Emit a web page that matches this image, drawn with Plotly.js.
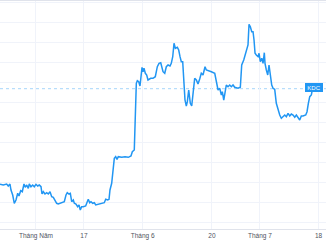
<!DOCTYPE html>
<html>
<head>
<meta charset="utf-8">
<script src="https://cdn.plot.ly/plotly-3.0.1.min.js"></script>
<style>html,body{margin:0;padding:0;background:#fff;}#chart{width:326px;height:245px;}</style>
</head>
<body>
<div id="chart"></div>
<script>
// x: trading-day index (0 = first session of May), fractional = intraday bars
var days = [-6.75,-6.14,-5.50,-5.20,-4.88,-4.69,-4.37,-4.07,-3.75,-3.43,-3.19,-2.87,-2.57,-2.25,-2.01,-1.74,-1.44,-1.26,-0.94,-0.62,-0.32,0,0.32,0.62,0.94,1.13,1.37,1.69,2.01,2.31,2.63,2.95,3.25,3.56,3.88,4.18,4.50,
4.82,5.31,5.63,5.87,6.19,6.44,6.70,7.00,7.19,7.50,7.82,8.07,8.31,8.57,8.87,9.32,9.62,9.81,10.08,10.32,10.64,10.94,11.20,11.69,12.14,12.51,12.81,13.08,13.45,13.70,13.88,14.20,14.50,14.69,14.95,15.20,15.44,16.08,16.70,17.32,17.82,18.07,18.44,18.57,
18.82,19.01,19.27,19.51,19.76,19.89,20.08,20.26,20.51,20.77,21.01,21.52,21.95,22.38,22.76,23.08,23.40,23.64,23.83,24.15,24.45,24.77,25.14,25.38,25.65,25.89,26.14,26.51,26.77,27.02,27.26,27.52,27.77,27.95,28.20,28.39,28.65,28.95,29.21,29.46,29.77,30.08,30.39,30.71,31.01,31.33,31.71,31.95,32.46,32.89,33.53,33.83,34.15,34.47,34.77,34.95,35.22,35.46,35.70,36.02,36.34,36.64,36.96,37.28,37.90,38.33,38.59,38.97,39.34,39.59,39.77,39.96,40.21,40.47,40.71,40.90,41.09,41.33,41.65,41.84,42.08,42.35,42.59,42.83,42.96,43.21,43.47,43.71,43.96,44.22,44.47,44.78,45.08,45.40,45.72,46.02,46.34,46.66,46.96,47.28,47.60,47.90,48.22,48.54,48.84,49.16,49.47,49.77,50.09,50.60,50.84,51.09,51.35,51.65,51.88];
var prices = [47.84,47.77,47.87,47.67,47.87,47.27,46.77,45.94,46.27,46.94,46.67,47.20,47.10,47.87,47.54,47.77,47.44,47.87,47.60,47.77,47.60,47.84,47.67,47.77,47.60,46.87,47.10,46.87,47.00,46.87,47.10,46.60,46.54,46.27,45.94,45.87,45.94,
46.00,46.10,46.77,47.00,46.87,46.94,46.10,46.27,45.94,45.87,45.60,45.77,45.27,45.60,45.60,45.67,46.10,46.34,46.00,46.10,45.94,46.00,45.77,45.84,45.87,45.94,46.00,46.34,46.27,46.34,47.27,47.94,49.27,50.44,50.60,50.34,50.60,50.54,50.60,50.54,50.67,51.10,51.27,53.27,
57.94,58.20,58.10,57.67,59.27,59.54,59.10,59.44,58.94,58.77,58.27,58.44,58.44,58.60,59.60,59.94,60.00,59.60,59.10,58.94,59.60,59.77,59.67,59.94,60.60,61.94,61.44,61.54,61.27,60.60,60.10,60.10,58.27,56.27,55.67,56.10,57.27,55.94,55.67,56.94,58.44,58.27,57.87,58.37,58.94,58.77,59.60,59.27,59.20,59.10,58.94,57.94,57.27,57.44,56.77,57.10,56.27,57.00,57.77,57.60,57.77,57.60,57.77,57.54,57.44,57.54,59.77,60.27,60.94,61.60,61.77,63.84,63.60,63.10,63.10,62.27,60.94,60.77,60.60,60.94,60.10,60.44,59.94,61.00,59.94,59.27,58.77,59.77,58.60,57.77,57.44,57.34,55.94,55.27,54.77,54.44,54.60,54.77,54.60,54.94,54.67,54.87,54.77,54.54,54.77,54.44,54.27,54.67,54.67,54.77,55.10,55.94,56.60,56.77,57.40];
var tickDays = [0, 9, 20, 33, 42, 53];
var tickLabels = ['Tháng Năm', '17', 'Tháng 6', '20', 'Tháng 7', '18'];
var symbol = 'KDC';

var lastPrice = prices[prices.length - 1];
var blue = '#2196f3';

var trace = {
  x: days, y: prices, type: 'scatter', mode: 'lines',
  line: {color: blue, width: 1.5, shape: 'linear'},
  hoverinfo: 'none'
};

var layout = {
  width: 326, height: 245,
  margin: {l: 0, r: 0, t: 1, b: 16, pad: 0},
  paper_bgcolor: '#ffffff', plot_bgcolor: '#ffffff',
  showlegend: false,
  font: {family: 'Liberation Sans, Arial, sans-serif', size: 6.5, color: '#50535e'},
  xaxis: {
    range: [-6.75, 54.4], tickmode: 'array', tickvals: tickDays, ticktext: tickLabels,
    showgrid: true, gridcolor: '#f0f3fa', gridwidth: 1, zeroline: false,
    showline: true, mirror: true, linecolor: '#e0e3eb', linewidth: 1,
    ticks: '', tickfont: {size: 6.5, color: '#50535e'}, fixedrange: true
  },
  yaxis: {
    range: [43.37, 66.17], tickmode: 'linear', tick0: 44, dtick: 2,
    showgrid: true, gridcolor: '#f0f3fa', gridwidth: 1, zeroline: false,
    showticklabels: false, ticks: '', showline: false, fixedrange: true
  },
  shapes: [{
    type: 'line', xref: 'paper', x0: 0, x1: 1, yref: 'y', y0: lastPrice, y1: lastPrice,
    line: {color: 'rgba(33,150,243,0.4)', width: 1, dash: 'dot'}, layer: 'below'
  }],
  annotations: [{
    xref: 'paper', x: 0.9647, yref: 'y', y: lastPrice + 0.1, xanchor: 'center', yanchor: 'middle',
    text: symbol, showarrow: false, bgcolor: blue, bordercolor: blue, borderwidth: 0, borderpad: 1.5,
    font: {size: 6, color: '#ffffff', family: 'Liberation Sans, Arial, sans-serif'}, width: 15, height: 6
  }]
};

Plotly.newPlot('chart', [trace], layout, {staticPlot: true, displayModeBar: false});
</script>
</body>
</html>
